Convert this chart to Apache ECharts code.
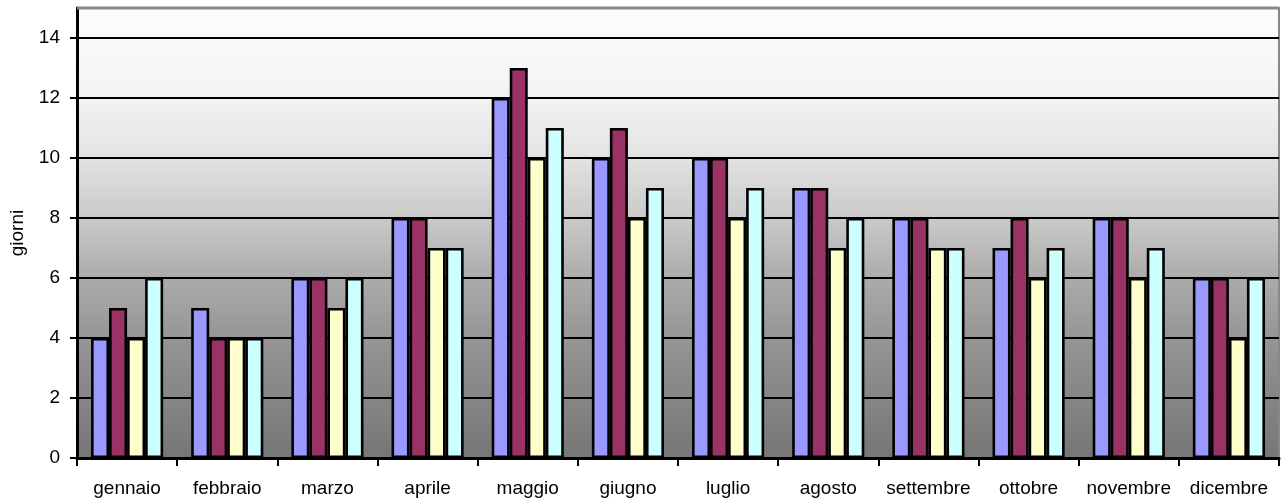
<!DOCTYPE html>
<html>
<head>
<meta charset="utf-8">
<script src="https://cdn.jsdelivr.net/npm/echarts@6/dist/echarts.min.js"></script>
<style>
  html, body { margin: 0; padding: 0; background: #fff; }
  #chart { width: 1281px; height: 503px; }
</style>
</head>
<body>
<div id="chart"></div>
<script>
// Giorni per mese, quattro serie
const mesi = ['gennaio', 'febbraio', 'marzo', 'aprile', 'maggio', 'giugno',
  'luglio', 'agosto', 'settembre', 'ottobre', 'novembre', 'dicembre'];
const serieA = [4, 5, 6, 8, 12, 10, 10, 9, 8, 7, 8, 6];
const serieB = [5, 4, 6, 8, 13, 11, 10, 9, 8, 8, 8, 6];
const serieC = [4, 4, 5, 7, 10, 8, 8, 7, 7, 6, 6, 4];
const serieD = [6, 4, 6, 7, 11, 9, 9, 8, 7, 7, 7, 6];
const tacche = [0, 2, 4, 6, 8, 10, 12, 14];
const colori = ['#9999FF', '#993366', '#FFFFCC', '#CCFFFF'];

const W = 1281, H = 503;
const G = { left: 77, right: 2, top: 8, bottom: 45 };
const font = 'Liberation Sans, Arial, sans-serif';

const chart = echarts.init(document.getElementById('chart'), null, { renderer: 'canvas' });

function barSeries(data, color) {
  return {
    type: 'bar',
    data: data,
    barGap: '0%',
    barCategoryGap: '28%',
    itemStyle: { color: color, borderColor: '#000', borderWidth: 2.6 },
    emphasis: { disabled: true }
  };
}

chart.setOption({
  animation: false,
  grid: {
    left: G.left, right: G.right, top: G.top, bottom: G.bottom,
    show: true,
    borderColor: '#888',
    borderWidth: 2,
    backgroundColor: {
      type: 'linear', x: 0, y: 0, x2: 0, y2: 1,
      colorStops: [
        { offset: 0, color: '#fdfdfd' },
        { offset: 0.2, color: '#f3f3f3' },
        { offset: 0.33, color: '#e3e3e3' },
        { offset: 0.47, color: '#c9c9c9' },
        { offset: 0.6, color: '#ababab' },
        { offset: 0.75, color: '#939393' },
        { offset: 1, color: '#767676' }
      ]
    }
  },
  // top frame edge of the plot area, kept grey above the last gridline
  graphic: [{
    type: 'line',
    z: 100,
    shape: { x1: G.left, y1: G.top, x2: W - G.right, y2: G.top },
    style: { stroke: '#888', lineWidth: 3 }
  }],
  xAxis: {
    type: 'category',
    data: mesi,
    axisLine: { lineStyle: { color: '#000', width: 3 } },
    axisTick: { show: true, interval: 0, length: 8, lineStyle: { color: '#000', width: 2 } },
    axisLabel: { color: '#000', fontFamily: font, fontSize: 19, margin: 21, interval: 0, hideOverlap: false }
  },
  yAxis: {
    type: 'value',
    min: 0, max: 15, interval: 2,
    name: 'giorni',
    nameLocation: 'middle',
    nameGap: 50,
    nameTextStyle: { color: '#000', fontFamily: font, fontSize: 19 },
    axisLine: { show: true, lineStyle: { color: '#000', width: 3 } },
    axisTick: { show: true, length: 7, customValues: tacche, lineStyle: { color: '#000', width: 2 } },
    axisLabel: {
      color: '#000', fontFamily: font, fontSize: 19, margin: 17,
      customValues: tacche
    },
    splitLine: { show: true, lineStyle: { color: '#000', width: 2 } }
  },
  series: [
    barSeries(serieA, colori[0]),
    barSeries(serieB, colori[1]),
    barSeries(serieC, colori[2]),
    barSeries(serieD, colori[3])
  ]
});
</script>
</body>
</html>
